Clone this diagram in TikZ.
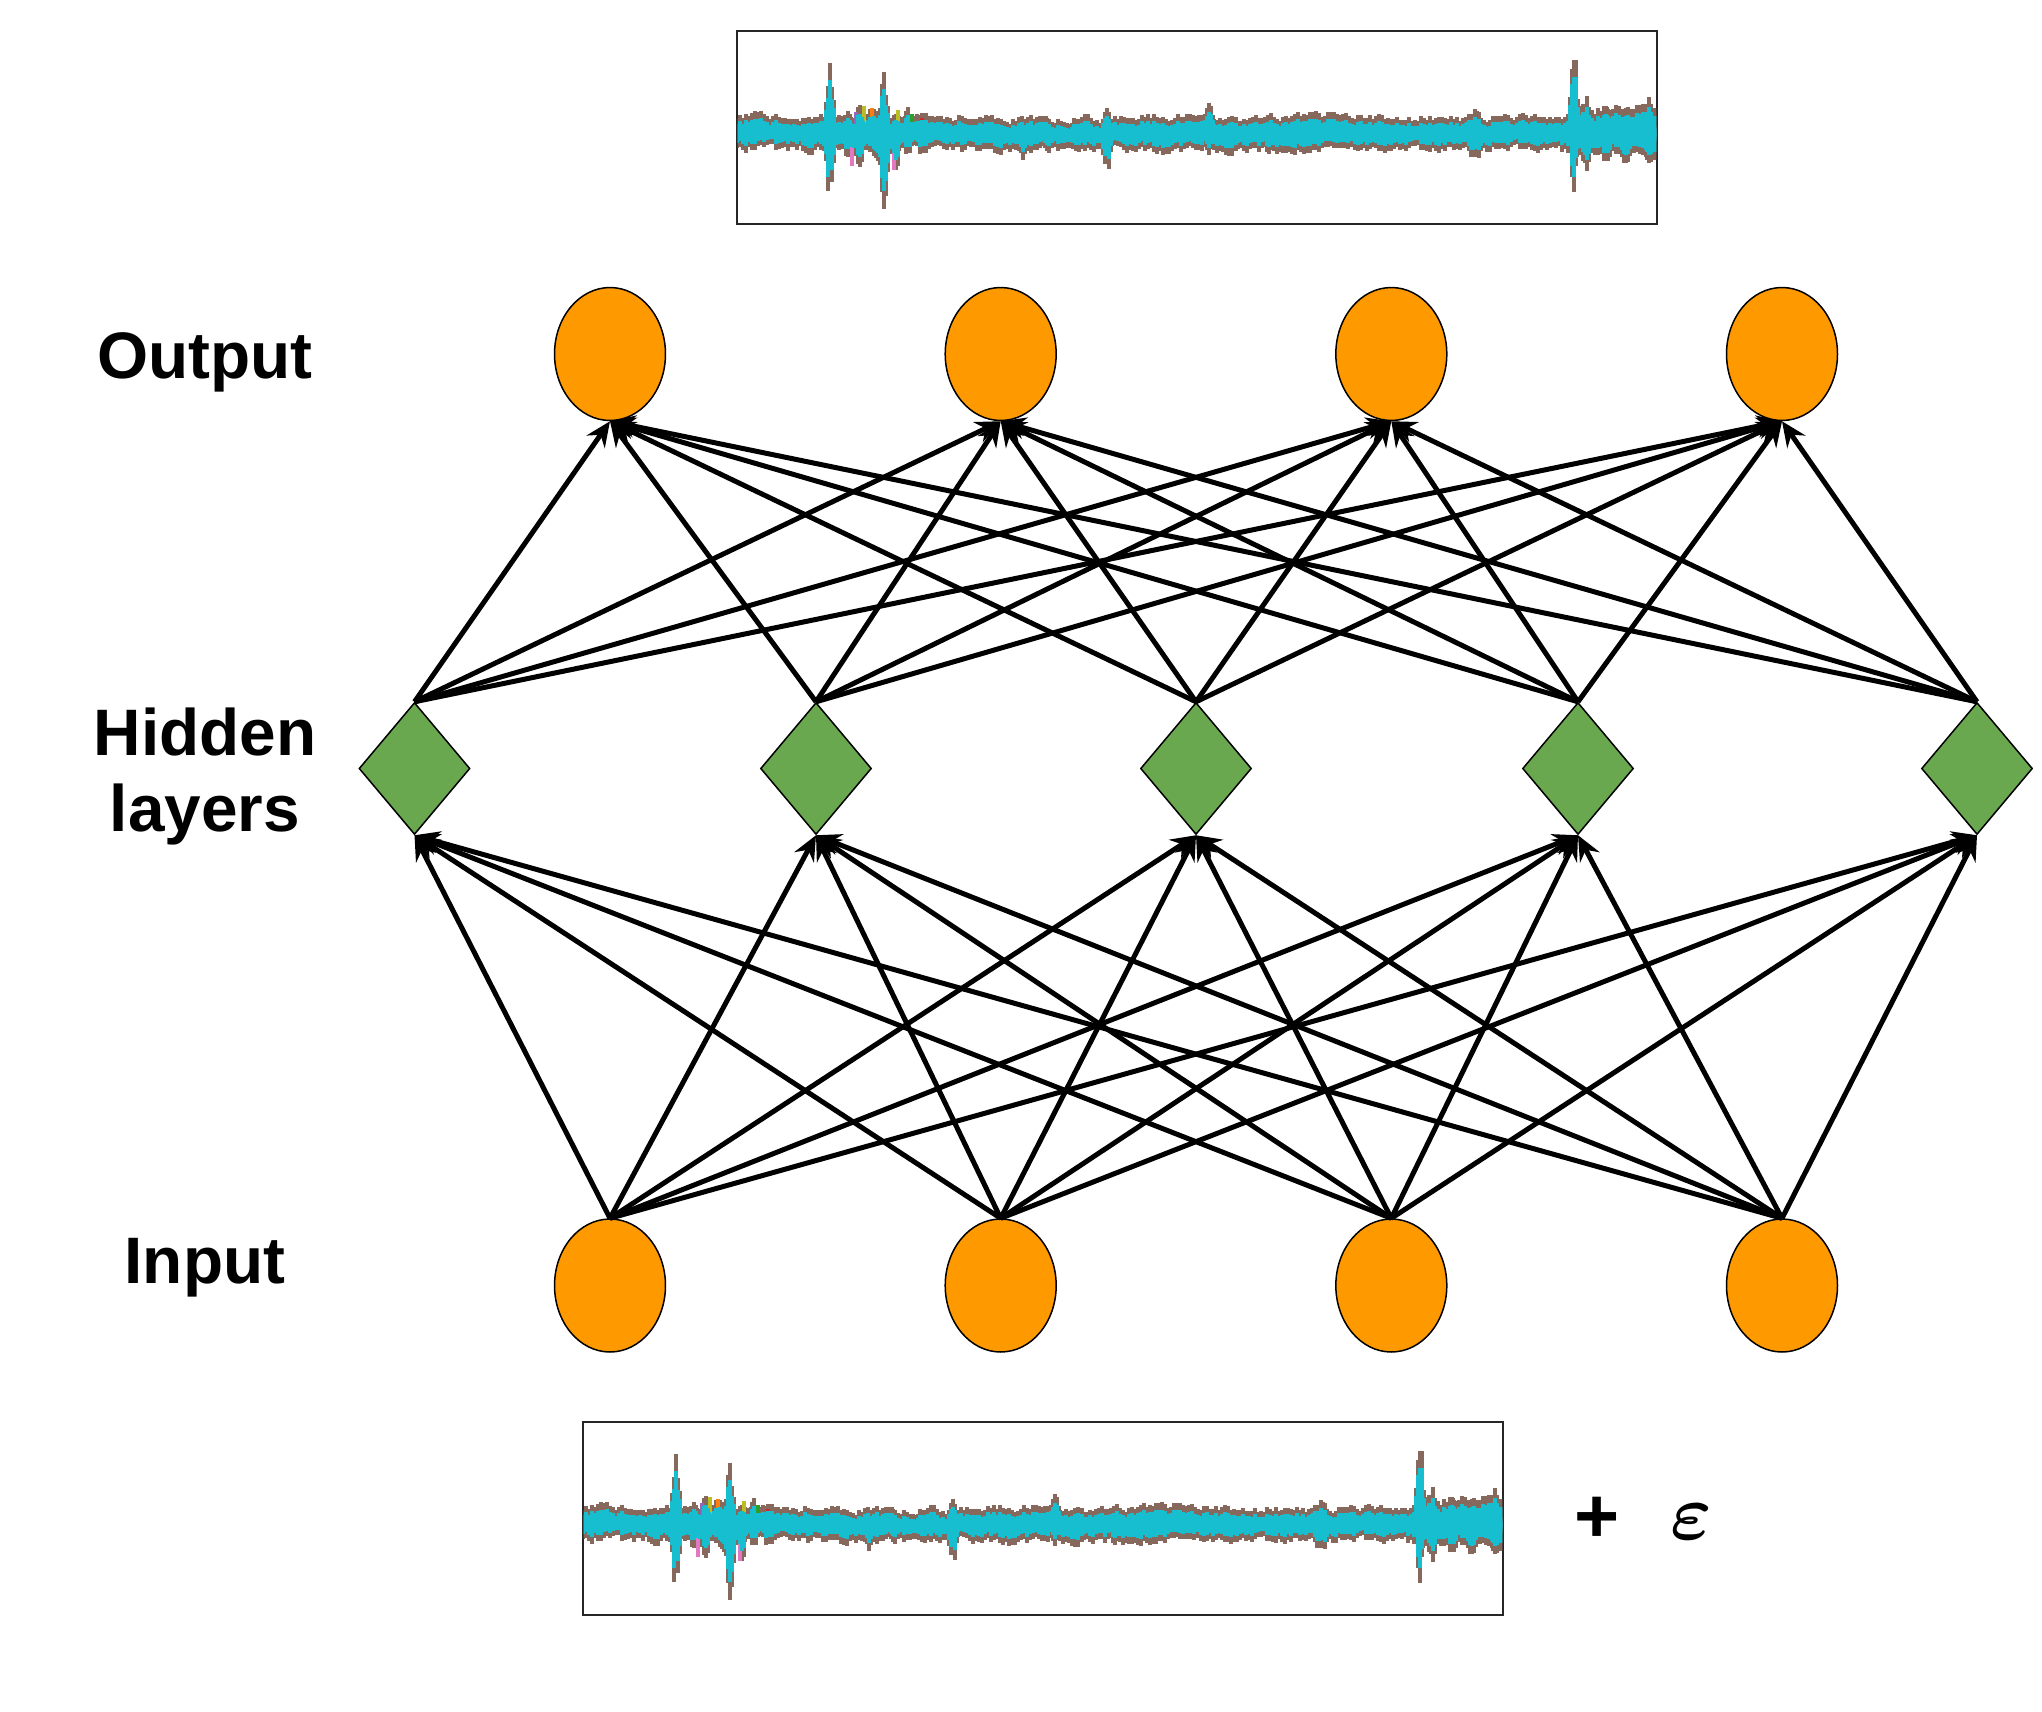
\documentclass[tikz,border=0pt]{standalone}
\usepackage{fontspec}
\setmainfont{Liberation Sans}
\usetikzlibrary{arrows.meta,shapes.geometric}

\definecolor{nodeorange}{HTML}{FF9900}
\definecolor{nodegreen}{HTML}{6AA84F}
\definecolor{wcyan}{HTML}{17BECF}
\definecolor{wbrown}{HTML}{86695C}
\definecolor{wpink}{HTML}{E377C2}
\definecolor{wolive}{HTML}{BCBD22}
\definecolor{worange}{HTML}{FF7F0E}
\definecolor{wblue}{HTML}{1F77B4}
\definecolor{wgreen}{HTML}{2CA02C}
\definecolor{wred}{HTML}{D62728}
\definecolor{wpurple}{HTML}{9467BD}

\tikzset{
  unit node/.style={ellipse, draw=black, line width=0.03cm, fill=nodeorange,
    minimum width=2.22cm, minimum height=2.66cm, inner sep=0pt},
  hidden node/.style={diamond, draw=black, line width=0.03cm, fill=nodegreen,
    minimum width=2.22cm, minimum height=2.64cm, inner sep=0pt},
  link/.style={line width=0.1cm, -{Stealth[length=0.5cm,width=0.44cm,inset=0.17cm]}},
  layer label/.style={font=\fontsize{37.4}{43.2}\selectfont\bfseries, align=center},
  wave box/.style={draw=black!85, line width=0.04cm, minimum width=18.4cm,
    minimum height=3.86cm, inner sep=0pt},
  wave brown/.style={wbrown, line width=0.065cm},
  wave cyan/.style={wcyan, line width=0.065cm},
}

% one layer of the signal trace: #1 style, #2 amplitude factor, #3 extra margin
\newcommand\wavelayer[3]{%
  \pgfmathsetseed{2718}%
  \gdef\wpu{0.5}\gdef\wpd{0.5}\gdef\wsu{0.5}\gdef\wsd{0.5}%
  \foreach \k in {0,...,306}{%
    \pgfmathsetmacro\wx{1+3*\k}%
    \pgfmathsetmacro\wru{0.55*\wpu+0.45*rnd}%
    \pgfmathsetmacro\wrd{0.55*\wpd+0.45*rnd}%
    \pgfmathsetmacro\wlu{0.8*\wsu+0.2*rnd}%
    \pgfmathsetmacro\wld{0.8*\wsd+0.2*rnd}%
    \xdef\wpu{\wru}\xdef\wpd{\wrd}\xdef\wsu{\wlu}\xdef\wsd{\wld}%
    \pgfmathsetmacro\wbase{15+9*(\wx>838)}%
    \pgfmathsetmacro\wup{\wbase*(0.35+1.0*\wru+0.7*(\wlu-0.5))*#2+#3}%
    \pgfmathsetmacro\wdn{\wbase*(0.35+1.0*\wrd+0.7*(\wld-0.5))*#2+#3}%
    \draw[#1] (\wx,6-\wup) -- (\wx,6+\wdn);
  }%
  \foreach \spx/\spu/\spd/\spw in {94/58/54/5,148/52/60/5,112/18/24/6,124/24/28/5,
      134/20/18/5,140/22/26/5,160/18/30/5,172/20/18/5,186/16/20/5,228/10/8/7,
      250/12/10/6,287/10/20/6,311/10/16/6,340/12/10/6,371/22/32/5,430/10/10/7,
      473/28/16/5,500/12/12/6,533/10/18/5,572/12/16/5,610/10/12/6,650/10/10/6,
      700/10/10/6,739/20/22/11,790/10/10/6,838/84/46/4,851/32/30/5,870/22/26/7,
      890/20/26/7,913/30/32/5}{%
    \foreach \j in {-8,...,8}{%
      \pgfmathsetmacro\wx{\spx+2*\j}%
      \pgfmathsetmacro\wgs{exp(-(2*\j/\spw)^2)}%
      \pgfmathsetmacro\wup{\spu*\wgs*(0.8+0.4*rnd)*#2+#3*\wgs}%
      \pgfmathsetmacro\wdn{\spd*\wgs*(0.8+0.4*rnd)*#2+#3*\wgs}%
      \draw[#1] (\wx,6-\wup) -- (\wx,6+\wdn);
    }}%
}

% the multichannel trace inside a framed box node
\newcommand\drawwave[1]{%
  \begin{scope}
    \clip ([xshift=0.03cm,yshift=0.03cm]#1.south west) rectangle
          ([xshift=-0.03cm,yshift=-0.03cm]#1.north east);
    \begin{scope}[shift={(#1.west)}]
      \wavelayer{wave brown}{1}{3.5}
      \foreach \ox/\ou/\od/\oc in {116/-12/32/wpink,158/-14/36/wpink,128/28/-10/wolive,
          162/24/-10/wolive,136/26/-10/worange,145/20/-10/wblue,176/20/-10/wgreen,
          186/16/-10/wred,120/22/-10/wpurple,94/70/-20/wbrown,148/62/-20/wbrown}{%
        \draw[line width=0.08cm,\oc] (\ox,6-\ou) -- (\ox,6+\od);
      }
      \wavelayer{wave cyan}{0.8}{0}
    \end{scope}
  \end{scope}}

\begin{document}
\begin{tikzpicture}[x=0.02cm,y=-0.02cm]
  \useasboundingbox (0,0) rectangle (2042,1711);
  \fill[white] (0,0) rectangle (2042,1711);

  % layer labels
  \node[layer label, anchor=base] (lblout) at (205,378) {Output};
  \node[layer label, anchor=base] (lblhid) at (205,831) {Hidden\\layers};
  \node[layer label, anchor=base] (lblin) at (205,1283) {Input};

  % units
  \foreach \i/\x in {1/610,2/1000.7,3/1391.3,4/1782}{
    \node[unit node] (out\i) at (\x,354) {};
    \node[unit node] (in\i) at (\x,1285.5) {};
  }
  \foreach \i/\x in {1/414.5,2/816,3/1196,4/1578,5/1977}
    \node[hidden node] (hid\i) at (\x,768.5) {};

  % fully connected links
  \foreach \i in {1,...,4}
    \foreach \j in {1,...,5}{
      \draw[link] (in\i.north) -- (hid\j.south);
      \draw[link] (hid\j.north) -- (out\i.south);
    }

  % signals
  \node[wave box] (wavetop) at (1197,127.5) {};
  \node[wave box] (wavebot) at (1043,1518.5) {};
  \drawwave{wavetop}
  \drawwave{wavebot}

  \node[font=\fontsize{44}{50}\selectfont\bfseries] (plus) at (1597,1520) {+};
  \node[font=\boldmath, scale=4.5] (eps) at (1691,1522) {$\varepsilon$};
\end{tikzpicture}
\end{document}
